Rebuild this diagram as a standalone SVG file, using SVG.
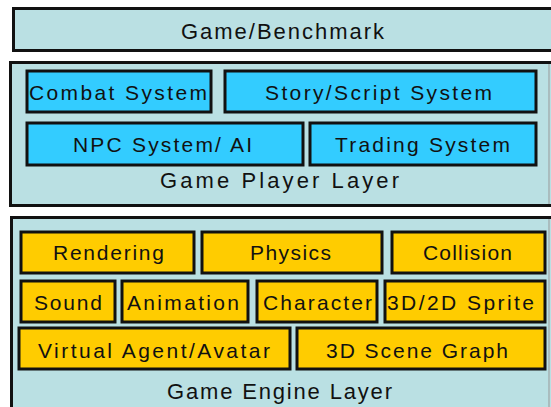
<svg xmlns="http://www.w3.org/2000/svg" width="551" height="407" viewBox="0 0 551 407">
<style>
.layer{fill:#BAE0E3;stroke:#111;stroke-width:3}
.p{fill:#33CCFF;stroke:#111;stroke-width:3}
.e{fill:#FFCC00;stroke:#111;stroke-width:3}
text{font-family:"Liberation Sans",Arial,sans-serif;fill:#111;text-anchor:start}
.lbl{font-size:21px}
.ttl{font-size:22px}
.edge{stroke:#999;stroke-width:1}
</style>
<rect width="551" height="407" fill="#fff"/>
<g id="game-benchmark">
<rect class="layer" x="13.5" y="8.5" width="545" height="42"/>
<text class="ttl" x="181" y="39" textLength="203" lengthAdjust="spacing">Game/Benchmark</text>
</g>
<g id="game-player-layer">
<rect class="layer" x="10.5" y="62.5" width="548" height="143"/>
<line class="edge" x1="549" y1="64" x2="549" y2="204"/>
<text class="ttl" x="160" y="188" textLength="239" lengthAdjust="spacing">Game Player Layer</text>
</g>
<g id="combat-system">
<rect class="p" x="27" y="71" width="184" height="41"/>
<text class="lbl" x="29" y="100" textLength="178" lengthAdjust="spacing">Combat System</text>
</g>
<g id="story-script-system">
<rect class="p" x="225" y="71" width="311" height="41"/>
<text class="lbl" x="265" y="100" textLength="227" lengthAdjust="spacing">Story/Script System</text>
</g>
<g id="npc-system-ai">
<rect class="p" x="27" y="123" width="276" height="42"/>
<text class="lbl" x="73" y="152" textLength="179" lengthAdjust="spacing">NPC System/ AI</text>
</g>
<g id="trading-system">
<rect class="p" x="310" y="123" width="226" height="42"/>
<text class="lbl" x="335" y="152" textLength="175" lengthAdjust="spacing">Trading System</text>
</g>
<g id="game-engine-layer">
<rect class="layer" x="11.5" y="217.5" width="547" height="200"/>
<line class="edge" x1="549" y1="219" x2="549" y2="407"/>
<text class="ttl" x="167" y="399" textLength="225" lengthAdjust="spacing">Game Engine Layer</text>
</g>
<g id="rendering">
<rect class="e" x="21" y="232" width="173" height="41"/>
<text class="lbl" x="53" y="260" textLength="111" lengthAdjust="spacing">Rendering</text>
</g>
<g id="physics">
<rect class="e" x="202" y="232" width="180" height="41"/>
<text class="lbl" x="250" y="260" textLength="81" lengthAdjust="spacing">Physics</text>
</g>
<g id="collision">
<rect class="e" x="392" y="232" width="153" height="41"/>
<text class="lbl" x="423" y="260" textLength="89" lengthAdjust="spacing">Collision</text>
</g>
<g id="sound">
<rect class="e" x="21" y="281" width="94" height="41"/>
<text class="lbl" x="34" y="310" textLength="68" lengthAdjust="spacing">Sound</text>
</g>
<g id="animation">
<rect class="e" x="122" y="281" width="126" height="41"/>
<text class="lbl" x="127" y="310" textLength="112" lengthAdjust="spacing">Animation</text>
</g>
<g id="character">
<rect class="e" x="257" y="281" width="120" height="41"/>
<text class="lbl" x="263" y="310" textLength="109" lengthAdjust="spacing">Character</text>
</g>
<g id="sprite">
<rect class="e" x="385" y="281" width="160" height="41"/>
<text class="lbl" x="387" y="310" textLength="147" lengthAdjust="spacing">3D/2D Sprite</text>
</g>
<g id="virtual-agent-avatar">
<rect class="e" x="19" y="328" width="271" height="41"/>
<text class="lbl" x="38" y="358" textLength="232" lengthAdjust="spacing">Virtual Agent/Avatar</text>
</g>
<g id="scene-graph">
<rect class="e" x="297" y="328" width="248" height="41"/>
<text class="lbl" x="326" y="358" textLength="182" lengthAdjust="spacing">3D Scene Graph</text>
</g>
</svg>
